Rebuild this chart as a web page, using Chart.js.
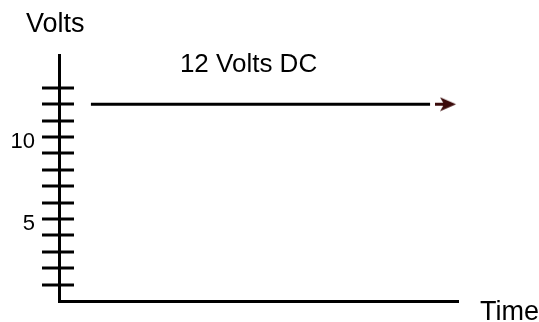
<!DOCTYPE html>
<html>
<head>
<meta charset="utf-8">
<script src="https://cdn.jsdelivr.net/npm/chart.js@4/dist/chart.umd.min.js"></script>
<style>
  html, body { margin: 0; padding: 0; background: #fff; }
  #chart { display: block; }
</style>
</head>
<body>
<canvas id="chart" width="539" height="322"></canvas>
<script>
// time runs 0..100 along the x axis, volts 0..15 up the y axis
const timeRange = [0, 100];
const voltRange = [0, 15];
const lineTimes = [8, 93];
const lineVolts = [12, 12];
const arrowTime = 97;
const minorTicks = [1, 2, 3, 4, 5, 6, 7, 8, 9, 10, 11, 12, 13];
const labeledTicks = [5, 10];
const seriesLabel = "12 Volts DC";
const yTitle = "Volts";
const xTitle = "Time";

const FONT = "'Liberation Sans', Arial, sans-serif";

function makeArrow() {
  const c = document.createElement("canvas");
  c.width = 22;
  c.height = 15;
  const ctx = c.getContext("2d");
  ctx.fillStyle = "#3a0a0a";
  ctx.fillRect(0, 6, 9, 3);
  ctx.beginPath();
  ctx.moveTo(21, 7.5);
  ctx.lineTo(5, 0.5);
  ctx.lineTo(9, 7.5);
  ctx.lineTo(5, 14.5);
  ctx.closePath();
  ctx.fill();
  return c;
}

const axisTicks = {
  id: "axisTicks",
  afterDraw(chart) {
    const { ctx, scales } = chart;
    const y = scales.y;
    const x = scales.x;
    const axisX = chart.chartArea.left;
    ctx.save();
    ctx.strokeStyle = "#000";
    ctx.lineWidth = 3;
    minorTicks.forEach((v) => {
      const py = Math.round(y.getPixelForValue(v));
      ctx.beginPath();
      ctx.moveTo(axisX - 17, py);
      ctx.lineTo(axisX + 15, py);
      ctx.stroke();
    });

    ctx.fillStyle = "#000";
    ctx.textBaseline = "alphabetic";
    ctx.textAlign = "center";
    ctx.font = "26px " + FONT;
    const midX = x.getPixelForValue(47.5);
    ctx.fillText(seriesLabel, midX, y.getPixelForValue(lineVolts[0]) - 32);

    ctx.textAlign = "left";
    ctx.font = "27px " + FONT;
    ctx.fillText(yTitle, 26, chart.chartArea.top - 23);
    ctx.fillText(xTitle, chart.chartArea.right + 22, 320);
    ctx.restore();
  },
};

new Chart(document.getElementById("chart"), {
  type: "scatter",
  data: {
    datasets: [
      {
        data: lineTimes.map((t, i) => ({ x: t, y: lineVolts[i] })),
        showLine: true,
        borderColor: "#000",
        borderWidth: 3,
        pointRadius: 0,
      },
      {
        data: [{ x: arrowTime, y: lineVolts[1] }],
        pointStyle: makeArrow(),
        pointRadius: 8,
        borderWidth: 0,
      },
    ],
  },
  options: {
    responsive: false,
    animation: false,
    layout: { padding: { top: 55, right: 81, bottom: 0, left: 0 } },
    plugins: { legend: { display: false }, tooltip: { enabled: false } },
    scales: {
      x: {
        type: "linear",
        min: timeRange[0],
        max: timeRange[1],
        grid: { display: false, drawTicks: false },
        ticks: { display: false },
        border: { display: true, color: "#000", width: 3 },
        afterFit(scale) {
          scale.height = 21;
          scale.paddingLeft = 0;
          scale.paddingRight = 0;
        },
      },
      y: {
        min: voltRange[0],
        max: voltRange[1],
        grid: { display: false, drawTicks: false },
        border: { display: true, color: "#000", width: 3 },
        ticks: {
          stepSize: 1,
          autoSkip: false,
          padding: 24,
          labelOffset: 5,
          color: "#000",
          font: { family: FONT, size: 22 },
          callback: (v) => (labeledTicks.includes(v) ? String(v) : ""),
        },
        afterFit(scale) {
          scale.width = 59;
          scale.paddingTop = 0;
          scale.paddingBottom = 0;
        },
      },
    },
  },
  plugins: [axisTicks],
});
</script>
</body>
</html>
